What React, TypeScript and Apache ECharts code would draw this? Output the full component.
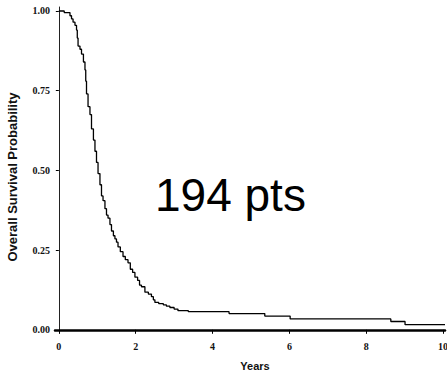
import React, { useEffect, useRef } from "react";
import * as echarts from "echarts";

const times = [
  0, 0.14, 0.29, 0.33, 0.37, 0.42, 0.46, 0.48, 0.5, 0.55, 0.59, 0.64, 0.68, 0.7, 0.72, 0.76, 0.81, 0.85,
  0.9, 0.94, 0.98, 1.02, 1.07, 1.11, 1.15, 1.2, 1.24, 1.28, 1.33, 1.37, 1.42, 1.46, 1.5, 1.54, 1.6, 1.67,
  1.73, 1.8, 1.86, 1.92, 1.98, 2.05, 2.1, 2.15, 2.24, 2.33, 2.41, 2.46, 2.5, 2.6, 2.72, 2.8, 2.89, 3.0,
  3.1, 3.37, 4.43, 5.36, 6.02, 8.64, 9.01, 10.05,
];
const survival = [
  1.0, 0.995, 0.985, 0.975, 0.965, 0.955, 0.94, 0.915, 0.89, 0.88, 0.865, 0.84, 0.815, 0.78, 0.74, 0.7,
  0.675, 0.63, 0.595, 0.56, 0.525, 0.49, 0.455, 0.42, 0.405, 0.38, 0.36, 0.35, 0.33, 0.31, 0.295, 0.285,
  0.275, 0.26, 0.245, 0.23, 0.22, 0.21, 0.19, 0.18, 0.165, 0.155, 0.14, 0.135, 0.118, 0.112, 0.104, 0.094,
  0.086, 0.082, 0.078, 0.074, 0.07, 0.065, 0.06, 0.057, 0.051, 0.043, 0.034, 0.026, 0.016, 0.016,
];
const xTicks = [0, 2, 4, 6, 8, 10];
const yTicks = [0, 0.25, 0.5, 0.75, 1.0];
const annotation = "194 pts";

export default function App() {
  const ref = useRef<HTMLDivElement>(null);
  useEffect(() => {
    if (!ref.current) return;
    const chart = echarts.init(ref.current, null, { renderer: "svg" });
    const tickFont = { fontFamily: "Liberation Serif", fontWeight: "bold", fontSize: 10, color: "#111" };
    chart.setOption({
      animation: false,
      backgroundColor: "#fff",
      grid: { left: 55, right: 2, top: 7, bottom: 40, containLabel: false, outerBoundsMode: "none" },
      xAxis: {
        type: "value",
        min: -0.1,
        max: 10.05,
        name: "Years",
        nameLocation: "middle",
        nameGap: 27,
        nameTextStyle: {
          fontFamily: "Liberation Sans",
          fontWeight: "bold",
          fontSize: 11,
          color: "#111",
          padding: [0, 0, 0, 10],
        },
        axisLine: { onZero: true, lineStyle: { color: "#000", width: 2.5 } },
        axisTick: { show: true, customValues: xTicks, length: 4, lineStyle: { color: "#000", width: 1 } },
        axisLabel: { customValues: xTicks, margin: 8, ...tickFont },
        splitLine: { show: false },
      },
      yAxis: {
        type: "value",
        min: -0.01,
        max: 1.0125,
        name: "Overall Survival Probability",
        nameLocation: "middle",
        nameRotate: 90,
        nameGap: 36,
        nameTextStyle: {
          fontFamily: "Liberation Sans",
          fontWeight: "bold",
          fontSize: 13,
          color: "#111",
          padding: [0, 14, 0, 0],
        },
        axisLine: { show: true, lineStyle: { color: "#222", width: 1 } },
        axisTick: { show: true, customValues: yTicks, length: 3, lineStyle: { color: "#000" } },
        axisLabel: {
          customValues: yTicks,
          margin: 5,
          formatter: (v: number) => v.toFixed(2),
          ...tickFont,
        },
        splitLine: { show: false },
      },
      graphic: [
        {
          type: "text",
          left: 155,
          top: 172,
          style: {
            text: annotation,
            fontFamily: "Liberation Sans",
            fontSize: 46,
            fill: "#000",
          },
        },
      ],
      series: [
        {
          type: "line",
          step: "end",
          showSymbol: false,
          data: times.map((t, i) => [t, survival[i]]),
          lineStyle: { color: "#000", width: 1.3 },
        },
      ],
    });
    return () => chart.dispose();
  }, []);
  return (
    <div
      ref={ref}
      style={{ position: "absolute", left: 0, top: 0, width: 447, height: 373 }}
    />
  );
}
